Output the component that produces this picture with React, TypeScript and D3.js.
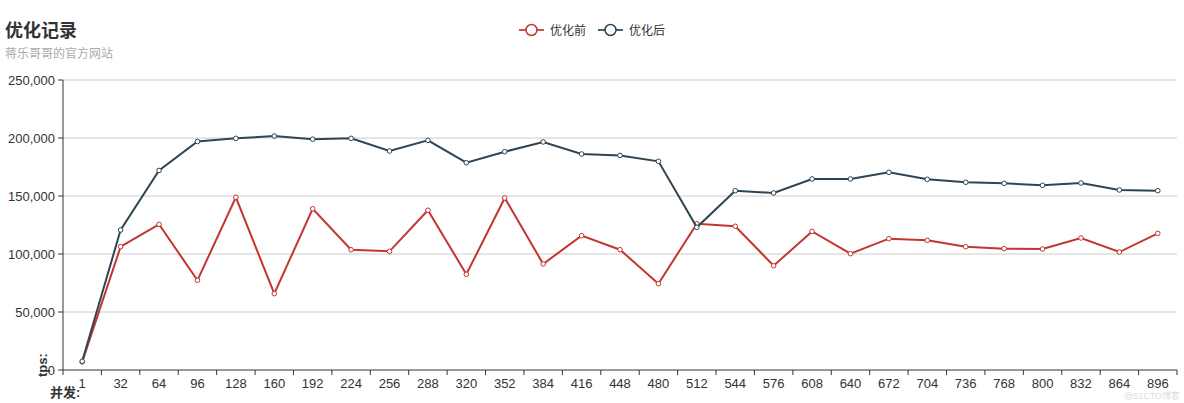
import React from "react";
import * as d3 from "d3";

const categories = ["1","32","64","96","128","160","192","224","256","288","320","352","384","416","448","480","512","544","576","608","640","672","704","736","768","800","832","864","896"];
const before = [7000,106300,125600,77300,148900,65800,139000,103700,102300,137700,82500,148300,91400,115800,103700,74400,126100,123900,89900,119500,100300,113200,111800,106300,104600,104300,113800,101700,117800];
const after = [7500,120700,172000,197000,199700,201700,199000,199700,188800,198000,178700,188200,196600,186200,185000,179900,123000,154600,152600,164700,164700,170400,164400,161800,160900,159200,161200,155200,154600];
const yTicks = [0,50000,100000,150000,200000,250000];
const seriesNames = ["优化前","优化后"];
const colors = ["#c23531","#2f4554"];

const W = 1184, H = 403;
const left = 63, right = 1177, top = 80, bottom = 370;
const font = "'Liberation Sans', 'Noto Sans CJK SC', sans-serif";

export default function App() {
  const x = d3.scaleBand().domain(categories).range([left, right]);
  const y = d3.scaleLinear().domain([0, 250000]).range([bottom, top]);
  const cx = (c: string) => (x(c) as number) + x.bandwidth() / 2;
  const line = d3.line<number>().x((_, i) => cx(categories[i])).y(d => y(d));
  const fmt = d3.format(",");
  const all = [before, after];
  const bounds = categories.map(c => x(c) as number).concat([right]);
  return (
    <svg width={W} height={H} style={{ position: "absolute", left: 0, top: 0, fontFamily: font }}>
      <rect width={W} height={H} fill="#fff" />
      <text x={5} y={37} fontSize={18} fontWeight="bold" fill="#333">优化记录</text>
      <text x={5} y={58} fontSize={12} fill="#aaa">蒋乐哥哥的官方网站</text>
      {/* legend */}
      {seriesNames.map((n, i) => {
        const lx = i === 0 ? 519 : 598;
        return (
          <g key={n}>
            <line x1={lx} x2={lx + 25} y1={30} y2={30} stroke={colors[i]} strokeWidth={2} opacity={0.85} />
            <circle cx={lx + 12.5} cy={30} r={5.5} fill="#fff" stroke={colors[i]} strokeWidth={1.5} />
            <text x={lx + 31} y={34.5} fontSize={12} fill="#333">{n}</text>
          </g>
        );
      })}
      {/* grid */}
      {yTicks.map(t => (
        <g key={t}>
          {t > 0 && <line x1={left} x2={right} y1={y(t)} y2={y(t)} stroke="#ccc" strokeWidth={1} />}
          <line x1={left - 5} x2={left} y1={y(t)} y2={y(t)} stroke="#333" />
          <text x={left - 8} y={y(t) + 5} fontSize={13} textAnchor="end" fill="#333">{fmt(t)}</text>
        </g>
      ))}
      <line x1={left} x2={left} y1={top} y2={bottom} stroke="#333" />
      <line x1={left} x2={right} y1={bottom} y2={bottom} stroke="#333" />
      {bounds.map((b, i) => (
        <line key={i} x1={b} x2={b} y1={bottom} y2={bottom + 5} stroke="#333" />
      ))}
      {categories.map(c => (
        <text key={c} x={cx(c)} y={388} fontSize={13} textAnchor="middle" fill="#333">{c}</text>
      ))}
      <text transform={`translate(47,377) rotate(-90)`} fontSize={13} fontWeight="bold" fill="#333">tps:</text>
      <text x={50} y={397} fontSize={13} fontWeight="bold" fill="#333">并发:</text>
      {/* series */}
      {all.map((s, si) => (
        <g key={si}>
          <path d={line(s) as string} fill="none" stroke={colors[si]} strokeWidth={2} />
          {s.map((v, i) => (
            <circle key={i} cx={cx(categories[i])} cy={y(v)} r={2.3} fill="#fff" stroke={colors[si]} strokeWidth={1} />
          ))}
        </g>
      ))}
      <text x={1180} y={399} fontSize={9} textAnchor="end" fill="#ddd">@51CTO博客</text>
    </svg>
  );
}
